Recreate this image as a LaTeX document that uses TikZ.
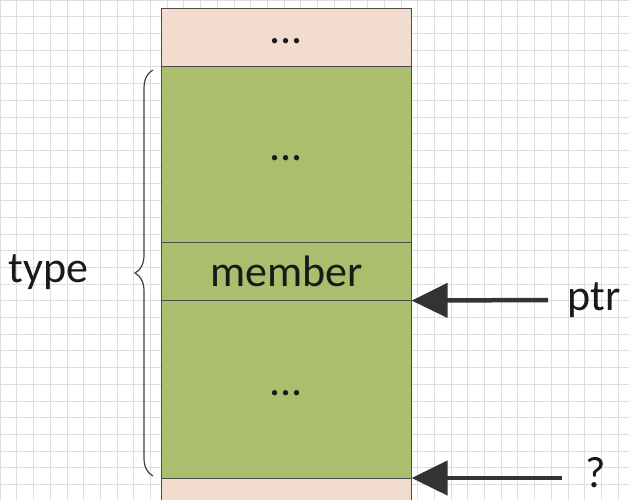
\documentclass[tikz,border=0pt]{standalone}
\usepackage{fontspec}
\setmainfont{Carlito}
\usetikzlibrary{decorations.pathreplacing,arrows.meta}
\begin{document}
\begin{tikzpicture}[x=1pt,y=-1pt,
  cell/.style={draw=black!70,line width=0.6pt,inner sep=0pt,anchor=north west},
  lbl/.style={font=\fontsize{44}{44}\selectfont,text=black!90},
  arr/.style={line width=4.5pt,draw=black!80,-{Triangle[length=36pt,width=34pt]}}]
\useasboundingbox (0,0) rectangle (629,500);
\fill[white] (0,0) rectangle (629,500);
\foreach \i in {0,...,38} {\draw[black!13,line width=0.6pt] (\i*16.7,0) -- (\i*16.7,500);}
\foreach \i in {0,...,30} {\draw[black!13,line width=0.6pt] (0,\i*16.7) -- (629,\i*16.7);}
\node[cell,fill={rgb,255:red,241;green,220;blue,206},minimum width=250pt,minimum height=58pt] (top) at (161,8) {};
\node[cell,fill={rgb,255:red,170;green,190;blue,110},minimum width=250pt,minimum height=176pt] (g1) at (161,66) {};
\node[cell,fill={rgb,255:red,170;green,190;blue,110},minimum width=250pt,minimum height=58pt] (mem) at (161,242) {};
\node[cell,fill={rgb,255:red,170;green,190;blue,110},minimum width=250pt,minimum height=178pt] (g2) at (161,300) {};
\node[cell,fill={rgb,255:red,241;green,220;blue,206},minimum width=250pt,minimum height=24pt] (bot) at (161,478) {};
\node[lbl] (t1) at ([yshift=-4pt]top.center) {...};
\node[lbl] (t2) at ([yshift=-4pt]g1.center) {...};
\node[lbl] (t3) at (mem.center) {member};
\node[lbl] (t4) at ([yshift=-4pt]g2.center) {...};
\draw[black!75,line width=1.2pt,decorate,decoration={brace,amplitude=18pt}] (153,476) -- (153,70);
\node[lbl,anchor=east] (type) at (92,272) {type};
\node[lbl,anchor=west] (ptr) at (564,300) {ptr};
\node[lbl] (q) at (596,473) {?};
\coordinate (a1) at (548,300);
\coordinate (a2) at (562,478);
\draw[arr] (a1) -- (mem.south east);
\draw[arr] (a2) -- (bot.north east);
\end{tikzpicture}
\end{document}
